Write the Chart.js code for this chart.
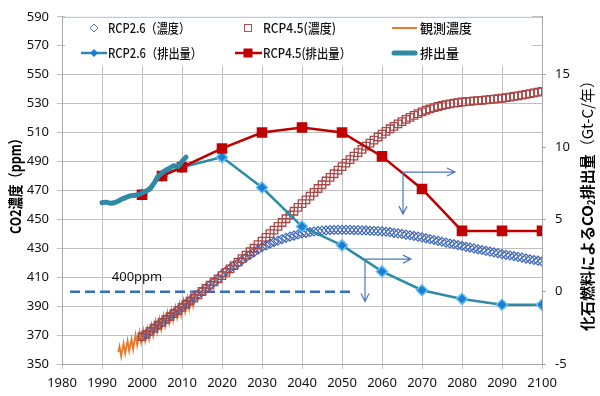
<!DOCTYPE html>
<html>
<head>
<meta charset="utf-8">
<script src="https://cdn.jsdelivr.net/npm/chart.js@4.4.1/dist/chart.umd.min.js"></script>
<style>
  html, body { margin: 0; padding: 0; background: #fff; }
  #wrap { width: 600px; height: 396px; }
</style>
</head>
<body>
<div id="wrap"><canvas id="chart" width="600" height="396"></canvas></div>
<script>
// DATA
// RCP scenarios, yearly concentration 2000-2100 (ppm)
const concYears = [];
for (let y = 2000; y <= 2100; y++) concYears.push(y);

const rcp26Conc = [
    368.9, 370.6, 372.6, 374.8, 376.8, 378.8, 380.9, 383.0, 385.1, 387.2,
    389.3, 391.5, 393.6, 395.8, 398.0, 400.2, 402.3, 404.5, 406.6, 408.7,
    412.1, 414.1, 416.0, 418.0, 419.9, 421.8, 423.6, 425.4, 427.2, 429.0,
    430.8, 432.0, 433.2, 434.3, 435.3, 436.3, 437.2, 438.0, 438.8, 439.5,
    440.2, 440.7, 441.2, 441.6, 441.9, 442.2, 442.4, 442.6, 442.7, 442.7,
    442.7, 442.7, 442.7, 442.6, 442.5, 442.4, 442.3, 442.1, 442.0, 441.9,
    441.7, 441.4, 441.1, 440.7, 440.3, 439.9, 439.4, 439.0, 438.5, 438.0,
    437.5, 436.9, 436.3, 435.7, 435.1, 434.5, 433.9, 433.3, 432.8, 432.2,
    431.6, 431.0, 430.5, 429.9, 429.3, 428.8, 428.2, 427.7, 427.1, 426.6,
    426.0, 425.5, 425.0, 424.5, 424.0, 423.5, 422.9, 422.4, 421.9, 421.4,
    420.9
];

const rcp45Conc = [
    368.9, 370.5, 372.5, 374.7, 376.8, 378.8, 380.8, 382.8, 384.8, 386.9,
    389.1, 391.3, 393.4, 395.6, 397.8, 400.1, 402.3, 404.5, 406.7, 408.9,
    411.1, 413.4, 415.7, 418.0, 420.4, 422.8, 425.2, 427.6, 430.0, 432.5,
    435.0, 437.5, 440.1, 442.6, 445.2, 447.8, 450.4, 453.0, 455.6, 458.2,
    460.8, 463.4, 466.1, 468.7, 471.3, 473.9, 476.5, 479.0, 481.5, 484.0,
    486.5, 488.9, 491.3, 493.7, 496.1, 498.4, 500.6, 502.7, 504.8, 506.9,
    508.9, 510.8, 512.6, 514.3, 516.0, 517.6, 519.1, 520.5, 521.8, 523.1,
    524.3, 525.4, 526.4, 527.2, 528.0, 528.7, 529.3, 529.8, 530.3, 530.7,
    531.1, 531.4, 531.6, 531.9, 532.1, 532.3, 532.6, 532.9, 533.1, 533.4,
    533.7, 534.1, 534.5, 535.0, 535.4, 535.9, 536.4, 536.9, 537.4, 537.9,
    538.4
];

// observed concentration, seasonal highs and lows
const obsYears = [
    1994.05, 1994.38, 1994.79, 1995.38, 1995.79, 1996.38, 1996.79, 1997.38, 1997.79,
    1998.38, 1998.79, 1999.38, 1999.79, 2000.38, 2000.79, 2001.38, 2001.79,
    2002.38, 2002.79, 2003.38, 2003.79, 2004.38, 2004.79, 2005.38, 2005.79,
    2006.38, 2006.79, 2007.38, 2007.79, 2008.38, 2008.79, 2009.38, 2009.79,
    2010.38, 2010.79, 2011.38, 2011.79, 2012.38, 2012.79, 2013.38
];
const obsConc = [
    358.2, 362.3, 355.2, 364.4, 357.2, 366.2, 359.0, 367.3, 360.1,
    370.3, 363.1, 372.0, 364.8, 373.2, 366.0, 374.7, 367.5,
    376.8, 369.6, 379.4, 372.2, 381.1, 373.9, 383.4, 376.2,
    385.5, 378.3, 387.4, 380.2, 389.2, 382.0, 391.0, 383.8,
    393.5, 386.3, 395.3, 388.1, 397.5, 390.3, 400.1
];

// emissions (Gt-C / year)
const emYears = [2000, 2005, 2010, 2020, 2030, 2040, 2050, 2060, 2070, 2080, 2090, 2100];
const rcp26Em = [6.7, 8.0, 8.6, 9.3, 7.2, 4.5, 3.2, 1.4, 0.1, -0.5, -0.9, -0.9];
const rcp45Em = [6.7, 8.0, 8.6, 9.9, 11.0, 11.35, 11.0, 9.35, 7.1, 4.2, 4.2, 4.2];

const histYears = [1990, 1991, 1992, 1993, 1994, 1995, 1996, 1997, 1998, 1999, 2000,
    2001, 2002, 2003, 2004, 2005, 2006, 2007, 2008, 2009, 2010, 2011];
const histEm = [6.15, 6.18, 6.12, 6.15, 6.25, 6.4, 6.52, 6.62, 6.65, 6.7, 6.82,
    6.95, 7.1, 7.5, 7.95, 8.2, 8.4, 8.55, 8.7, 8.65, 9.0, 9.3];

const refYears = [1982, 2052.5];
const refConc = [400, 400];

// arrows: [cornerYear, cornerEm, rightToYear, downToEm]
const arrows = [
    [2065.25, 8.27, 2078.25, 5.36],
    [2055.75, 2.25, 2067.25, -0.68]
];

const toXY = (xs, ys) => xs.map((x, i) => ({ x: x, y: ys[i] }));

const JP = "'Noto Sans CJK JP', 'Noto Sans', sans-serif";
const NUM = "'Noto Sans', 'DejaVu Sans', sans-serif";

// COLOURS
const teal = "#2f8aa6";
const red = "#c00000";
const blue = "#3a6bc4";

// EXTRA DRAWING (legend, titles, arrows, labels)
const extras = {
    id: "extras",
    beforeDatasetsDraw(chart) {
        const ctx = chart.ctx;
        ctx.save();
        ctx.fillStyle = "#fff";
        ctx.fillRect(65, 15, 467, 51);
        ctx.restore();
    },
    afterDatasetsDraw(chart) {
        const ctx = chart.ctx;
        const xs = chart.scales.x, y2 = chart.scales.y2;
        const a = chart.chartArea;
        ctx.save();

        // top border
        ctx.strokeStyle = "#a9c0dc";
        ctx.lineWidth = 1;
        ctx.beginPath();
        ctx.moveTo(a.left, a.top + 0.5);
        ctx.lineTo(a.right, a.top + 0.5);
        ctx.stroke();

        // arrows
        ctx.strokeStyle = "#4a78c6";
        ctx.lineWidth = 1.2;
        arrows.forEach(ar => {
            const cx = xs.getPixelForValue(ar[0]);
            const cy = y2.getPixelForValue(ar[1]);
            const rx = xs.getPixelForValue(ar[2]);
            const dy = y2.getPixelForValue(ar[3]);
            ctx.beginPath();
            ctx.moveTo(rx, cy); ctx.lineTo(cx, cy); ctx.lineTo(cx, dy);
            ctx.moveTo(rx - 8, cy - 4); ctx.lineTo(rx, cy); ctx.lineTo(rx - 8, cy + 4);
            ctx.moveTo(cx - 4, dy - 8); ctx.lineTo(cx, dy); ctx.lineTo(cx + 4, dy - 8);
            ctx.stroke();
        });

        // 400ppm label
        ctx.fillStyle = "#111";
        ctx.font = "13px " + NUM;
        ctx.textAlign = "center";
        ctx.textBaseline = "middle";
        ctx.fillText("400ppm", 137, 277);

        // legend
        ctx.textAlign = "left";
        ctx.font = "500 13px " + JP;
        const r1 = 28, r2 = 53;
        // row 1
        ctx.strokeStyle = "#5b7fc4"; ctx.lineWidth = 1;
        ctx.beginPath();
        ctx.moveTo(94, r1 - 4); ctx.lineTo(98, r1); ctx.lineTo(94, r1 + 4); ctx.lineTo(90, r1); ctx.closePath();
        ctx.stroke();
        ctx.fillText("RCP2.6（濃度）", 108, r1, 82);
        ctx.strokeStyle = "#b0504f";
        ctx.strokeRect(244.5, r1 - 3.5, 7, 7);
        ctx.fillText("RCP4.5(濃度)", 263, r1, 73);
        ctx.strokeStyle = "#e8792a"; ctx.lineWidth = 2;
        ctx.beginPath(); ctx.moveTo(392, r1); ctx.lineTo(417, r1); ctx.stroke();
        ctx.fillText("観測濃度", 420, r1, 52);
        // row 2
        ctx.strokeStyle = teal; ctx.lineWidth = 2.5;
        ctx.beginPath(); ctx.moveTo(81, r2); ctx.lineTo(107, r2); ctx.stroke();
        ctx.fillStyle = "#1a7fd4";
        ctx.beginPath();
        ctx.moveTo(94, r2 - 4); ctx.lineTo(98, r2); ctx.lineTo(94, r2 + 4); ctx.lineTo(90, r2); ctx.closePath();
        ctx.fill();
        ctx.fillStyle = "#111";
        ctx.fillText("RCP2.6（排出量）", 108, r2, 94);
        ctx.strokeStyle = red;
        ctx.beginPath(); ctx.moveTo(235, r2); ctx.lineTo(262, r2); ctx.stroke();
        ctx.fillStyle = red;
        ctx.fillRect(243.5, r2 - 4.5, 9, 9);
        ctx.fillStyle = "#111";
        ctx.fillText("RCP4.5(排出量）", 263, r2, 88);
        ctx.strokeStyle = teal; ctx.lineWidth = 5; ctx.lineCap = "round";
        ctx.beginPath(); ctx.moveTo(394, r2); ctx.lineTo(415, r2); ctx.stroke();
        ctx.lineCap = "butt";
        ctx.fillText("排出量", 420, r2, 39);

        // left title
        ctx.save();
        ctx.translate(15, 183);
        ctx.rotate(-Math.PI / 2);
        ctx.textAlign = "center";
        ctx.font = "bold 15px " + JP;
        ctx.fillStyle = "#000";
        ctx.fillText("CO2濃度（ppm）", 0, 0, 102);
        ctx.restore();

        // right title
        const parts = [
            ["化石燃料による", "bold 15px " + JP, 0],
            ["CO", "bold 15px " + JP, 0],
            ["2", "bold 10px " + JP, 4],
            ["排出量", "bold 15px " + JP, 0],
            ["（Gt-C/年）", "15px " + JP, 0]
        ];
        let total = 0;
        parts.forEach(p => { ctx.font = p[1]; total += ctx.measureText(p[0]).width; });
        ctx.save();
        ctx.translate(587, 202);
        ctx.rotate(-Math.PI / 2);
        ctx.textAlign = "left";
        ctx.fillStyle = "#000";
        let px = -total / 2;
        parts.forEach(p => {
            ctx.font = p[1];
            ctx.fillText(p[0], px, p[2]);
            px += ctx.measureText(p[0]).width;
        });
        ctx.restore();

        ctx.restore();
    }
};

const yearLabel = v => String(v);

new Chart(document.getElementById("chart"), {
    type: "line",
    data: {
        datasets: [
            {
                label: "排出量", yAxisID: "y2",
                data: toXY(histYears, histEm),
                borderColor: teal, borderWidth: 5, pointRadius: 0,
                borderCapStyle: "round", borderJoinStyle: "round", tension: 0.2
            },
            {
                label: "RCP4.5(排出量）", yAxisID: "y2",
                data: toXY(emYears, rcp45Em),
                borderColor: red, borderWidth: 2.5,
                pointStyle: "rect", pointRadius: 7.5,
                pointBackgroundColor: red, pointBorderColor: red, pointBorderWidth: 0
            },
            {
                label: "RCP2.6（排出量）", yAxisID: "y2",
                data: toXY(emYears, rcp26Em),
                borderColor: teal, borderWidth: 2.5,
                pointStyle: "rectRot", pointRadius: 5.5,
                pointBackgroundColor: "#1a7fd4", pointBorderColor: "#62bdf2", pointBorderWidth: 1.5
            },
            {
                label: "RCP4.5(濃度)", yAxisID: "y",
                data: toXY(concYears, rcp45Conc),
                showLine: false,
                pointStyle: "rect", pointRadius: 5.3,
                pointBackgroundColor: "rgba(0,0,0,0)", pointBorderColor: "#a84746", pointBorderWidth: 1.3
            },
            {
                label: "RCP2.6（濃度）", yAxisID: "y",
                data: toXY(concYears, rcp26Conc),
                showLine: false,
                pointStyle: "rectRot", pointRadius: 4.5,
                pointBackgroundColor: "rgba(0,0,0,0)", pointBorderColor: "#4169b8", pointBorderWidth: 1.2
            },
            {
                label: "観測濃度", yAxisID: "y",
                data: toXY(obsYears, obsConc),
                borderColor: "#e8792a", borderWidth: 1.8, pointRadius: 0
            },
            {
                label: "400ppm", yAxisID: "y",
                data: toXY(refYears, refConc),
                borderColor: blue, borderWidth: 2.5, borderDash: [10, 5], pointRadius: 0
            }
        ]
    },
    options: {
        responsive: false,
        animation: false,
        layout: { padding: { top: 9, left: 0, right: 0, bottom: 0 } },
        plugins: { legend: { display: false }, tooltip: { enabled: false } },
        scales: {
            x: {
                type: "linear", min: 1980, max: 2100,
                afterFit: s => { s.height = 32; },
                ticks: { stepSize: 10, padding: 6, color: "#111", callback: yearLabel, font: { family: NUM, size: 13 } },
                grid: { color: "#c0c0c0", tickLength: 5 },
                border: { color: "#a6a6a6" }
            },
            y: {
                position: "left", min: 350, max: 590,
                afterFit: s => { s.width = 62; },
                ticks: { stepSize: 20, padding: 8, color: "#111", font: { family: NUM, size: 13 } },
                grid: { color: "#c0c0c0", tickLength: 5 },
                border: { color: "#a6a6a6" }
            },
            y2: {
                position: "right", min: -5, max: 19,
                afterFit: s => { s.width = 58; },
                afterBuildTicks: s => { s.ticks = [-5, 0, 5, 10, 15].map(v => ({ value: v })); },
                ticks: { padding: 9, color: "#111", font: { family: NUM, size: 13 } },
                grid: { drawOnChartArea: false, color: "#a6a6a6", tickLength: 4 },
                border: { color: "#a6a6a6" }
            }
        }
    },
    plugins: [extras]
});
</script>
</body>
</html>
